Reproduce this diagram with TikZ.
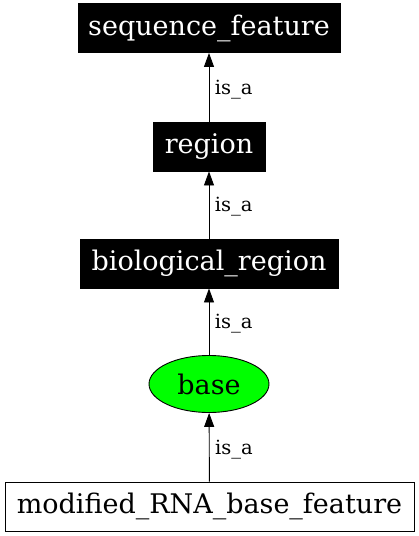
\documentclass[tikz,border=0pt]{standalone}
\usepackage{fontspec}
\setmainfont{DejaVu Serif}
\usetikzlibrary{arrows.meta}
\usetikzlibrary{shapes.geometric}
\usetikzlibrary{positioning}

\tikzset{
    termbox/.style={draw=black, fill=black, text=white, minimum height=49pt, inner xsep=10pt, font=\fontsize{27}{31}\selectfont},
    plainbox/.style={draw=black, fill=white, minimum height=49pt, inner xsep=10pt, font=\fontsize{27}{31}\selectfont},
    baseoval/.style={ellipse, draw=black, fill=green, minimum width=120pt, minimum height=57pt, inner sep=0pt, font=\fontsize{27}{31}\selectfont},
    isa/.style={-{Triangle[length=14pt,width=10pt]}, line width=0.9pt},
    isalabel/.style={font=\fontsize{19.5}{23}\selectfont, right, xshift=2pt, yshift=-2pt}
}

\begin{document}
\begin{tikzpicture}[line width=0.9pt]
    \useasboundingbox (0pt,0pt) rectangle (419pt,-536pt);
    \node[termbox, minimum width=262pt] (seqf) at (209pt,-28pt) {sequence\_feature};
    \node[termbox, minimum width=112pt] (region) at (209pt,-146.5pt) {region};
    \node[termbox, minimum width=258pt] (bioreg) at (209pt,-263.5pt) {biological\_region};
    \node[baseoval] (base) at (209pt,-384pt) {base};
    \node[plainbox, minimum width=409pt] (modbase) at (209.5pt,-506.5pt) {modified\_RNA\_base\_feature};
    \foreach \a/\b in {region/seqf, bioreg/region, base/bioreg, modbase/base} {
        \draw[isa] (\a) -- node[isalabel] {is\_a} (\b);
    }
\end{tikzpicture}
\end{document}
